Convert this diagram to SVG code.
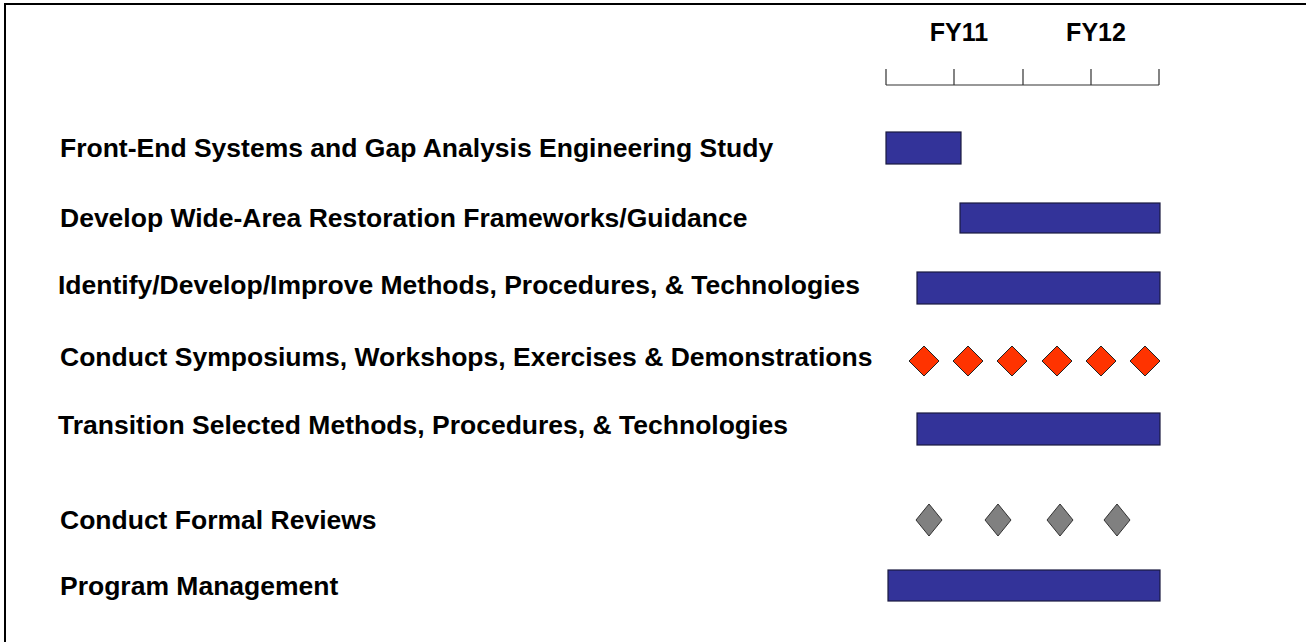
<svg xmlns="http://www.w3.org/2000/svg" width="1306" height="642" viewBox="0 0 1306 642">
<style>
.lbl{font-family:"Liberation Sans",Arial,sans-serif;font-weight:bold;font-size:26.5px;fill:#000}
.hdr{font-family:"Liberation Sans",Arial,sans-serif;font-weight:bold;font-size:25px;fill:#000}
.bar{fill:#333399;stroke:#1a1a40;stroke-width:1.2}
.red{fill:#FF3300;stroke:#222;stroke-width:1}
.gray{fill:#808080;stroke:#333;stroke-width:1}
.axis{stroke:#333;stroke-width:1.2;fill:none}
</style>
<defs>
<polygon id="dr" points="0,-15 15,0 0,15 -15,0"/>
<polygon id="dg" points="0,-16 13,0 0,16 -13,0"/>
</defs>
<rect x="5" y="4" width="1320" height="660" fill="#fff" stroke="#000" stroke-width="2"/>
<g id="timeline">
<text class="hdr" x="959" y="41" text-anchor="middle">FY11</text>
<text class="hdr" x="1096" y="41" text-anchor="middle">FY12</text>
<path class="axis" d="M886,85H1159M886,69V85M954,69V85M1023,69V85M1091,69V85M1159,69V85"/>
</g>
<g id="task1">
<text class="lbl" x="60" y="157">Front-End Systems and Gap Analysis Engineering Study</text>
<rect class="bar" x="886" y="132" width="75" height="32"/>
</g>
<g id="task2">
<text class="lbl" x="60" y="227">Develop Wide-Area Restoration Frameworks/Guidance</text>
<rect class="bar" x="960" y="203" width="200" height="30"/>
</g>
<g id="task3">
<text class="lbl" x="58" y="294">Identify/Develop/Improve Methods, Procedures, &amp; Technologies</text>
<rect class="bar" x="917" y="272" width="243" height="32"/>
</g>
<g id="task4">
<text class="lbl" x="60" y="366">Conduct Symposiums, Workshops, Exercises &amp; Demonstrations</text>
<use href="#dr" class="red" x="924" y="361"/>
<use href="#dr" class="red" x="968" y="361"/>
<use href="#dr" class="red" x="1012" y="361"/>
<use href="#dr" class="red" x="1057" y="361"/>
<use href="#dr" class="red" x="1101" y="361"/>
<use href="#dr" class="red" x="1145" y="361"/>
</g>
<g id="task5">
<text class="lbl" x="58" y="434">Transition Selected Methods, Procedures, &amp; Technologies</text>
<rect class="bar" x="917" y="413" width="243" height="32"/>
</g>
<g id="task6">
<text class="lbl" x="60" y="529">Conduct Formal Reviews</text>
<use href="#dg" class="gray" x="929" y="520"/>
<use href="#dg" class="gray" x="998" y="520"/>
<use href="#dg" class="gray" x="1060" y="520"/>
<use href="#dg" class="gray" x="1117" y="520"/>
</g>
<g id="task7">
<text class="lbl" x="60" y="595">Program Management</text>
<rect class="bar" x="888" y="570" width="272" height="31"/>
</g>
</svg>
